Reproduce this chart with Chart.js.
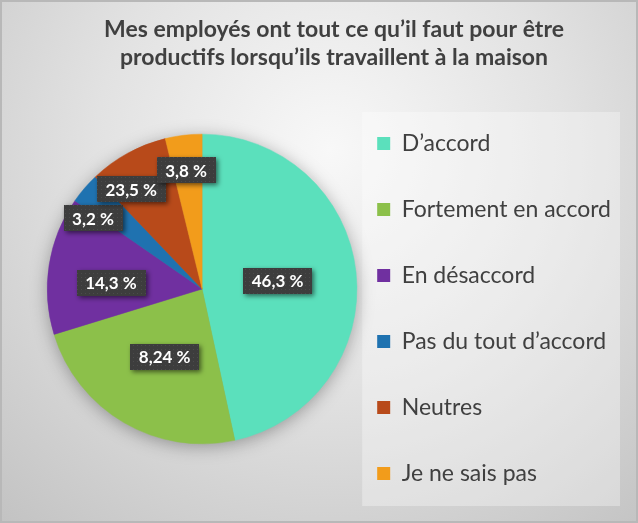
<!DOCTYPE html>
<html><head><meta charset="utf-8">
<script src="https://cdn.jsdelivr.net/npm/chart.js@4.4.1/dist/chart.umd.min.js"></script>
<style>html,body{margin:0;padding:0;background:#d8d8d8}#wrap{width:638px;height:523px;position:relative}</style>
</head><body><div id="wrap"><canvas id="c"></canvas></div>
<script>
const titleLines = ['Mes employés ont tout ce qu’il faut pour être', 'productifs lorsqu’ils travaillent à la maison'];
const categories = ['D’accord', 'Fortement en accord', 'En désaccord', 'Pas du tout d’accord', 'Neutres', 'Je ne sais pas'];
const values = [46.3, 23.5, 14.3, 3.2, 8.24, 3.8];
const valueLabels = ['46,3 %', '8,24 %', '14,3 %', '3,2 %', '23,5 %', '3,8 %'];
const colors = ['#5be0bc', '#8cc04a', '#7030a0', '#1f72b0', '#b84a1a', '#f29c1b'];

const FONT = 'Lato';
Chart.defaults.font.family = FONT;

const bgPlugin = {
  id: 'bg',
  beforeDraw(chart) {
    const {ctx, width, height} = chart;
    ctx.save();
    const g = ctx.createRadialGradient(330, 150, 0, 330, 150, 520);
    g.addColorStop(0, '#f8f8f8');
    g.addColorStop(0.45, '#e2e2e2');
    g.addColorStop(1, '#c0c0c0');
    ctx.fillStyle = g;
    ctx.fillRect(0, 0, width, height);
    ctx.strokeStyle = '#b8b8b8';
    ctx.lineWidth = 2;
    ctx.strokeRect(1, 1, width - 2, height - 2);
    const lg = chart.legend;
    if (lg) {
      const top = lg.top + lg._computeTitleHeight();
      ctx.fillStyle = 'rgba(255,255,255,0.32)';
      ctx.fillRect(lg.left + 5, top, lg.right - 1 - (lg.left + 5), lg.bottom - top);
    }
    ctx.restore();
  }
};

const shadowPlugin = {
  id: 'pieShadow',
  beforeDatasetsDraw(chart) {
    const arc = chart.getDatasetMeta(0).data[0];
    if (!arc) return;
    const {ctx} = chart;
    ctx.save();
    ctx.shadowColor = 'rgba(0,0,0,0.35)';
    ctx.shadowBlur = 18;
    ctx.shadowOffsetY = 3;
    ctx.beginPath();
    ctx.arc(arc.x, arc.y, arc.outerRadius - 1, 0, Math.PI * 2);
    ctx.fillStyle = '#888';
    ctx.fill();
    ctx.restore();
  }
};

const labelPlugin = {
  id: 'sliceLabels',
  afterDatasetsDraw(chart, args, opts) {
    const {ctx} = chart;
    const meta = chart.getDatasetMeta(0);
    const off = document.createElement('canvas');
    off.width = 4; off.height = 4;
    const octx = off.getContext('2d');
    octx.fillStyle = '#3d3d3d'; octx.fillRect(0, 0, 4, 4);
    octx.fillStyle = '#4b4b4b'; octx.fillRect(1, 1, 1, 1);
    const pattern = ctx.createPattern(off, 'repeat');
    meta.data.forEach((arc, i) => {
      const p = arc.getProps(['x', 'y', 'startAngle', 'endAngle', 'outerRadius'], true);
      const pl = opts.placement[i];
      const mid = (p.startAngle + p.endAngle) / 2 + pl.da * Math.PI / 180;
      const cx = p.x + Math.cos(mid) * p.outerRadius * pl.r;
      const cy = p.y + Math.sin(mid) * p.outerRadius * pl.r;
      const text = opts.texts[i];
      ctx.save();
      ctx.font = 'bold 17px ' + FONT;
      const w = ctx.measureText(text).width + 17;
      const h = 26;
      ctx.shadowColor = 'rgba(0,0,0,0.55)';
      ctx.shadowBlur = 5;
      ctx.shadowOffsetX = 2;
      ctx.shadowOffsetY = 2;
      ctx.fillStyle = pattern;
      ctx.fillRect(Math.round(cx - w / 2), Math.round(cy - h / 2), Math.round(w), h);
      ctx.shadowColor = 'transparent';
      ctx.fillStyle = '#ffffff';
      ctx.textAlign = 'center';
      ctx.textBaseline = 'middle';
      ctx.fillText(text, cx, cy + 1);
      ctx.restore();
    });
  }
};

new Chart(document.getElementById('c'), {
  type: 'pie',
  data: {
    labels: categories,
    datasets: [{
      data: values,
      backgroundColor: colors,
      borderColor: colors,
      borderWidth: 0.5
    }]
  },
  options: {
    responsive: true,
    maintainAspectRatio: false,
    animation: false,
    layout: {padding: {left: 47, right: 17, top: 0, bottom: 17}},
    plugins: {
      title: {
        display: true,
        text: titleLines,
        color: '#404040',
        font: {family: FONT, size: 23, weight: 'bold', lineHeight: '28px'},
        padding: {top: 16, bottom: 0}
      },
      legend: {
        position: 'right',
        align: 'start',
        fullSize: false,
        maxWidth: 264,
        title: {display: true, text: ' ', padding: 0, font: {size: 10, lineHeight: '40px'}},
        labels: {
          boxWidth: 13,
          boxHeight: 13,
          padding: 20,
          color: '#404040',
          font: {family: FONT, size: 23, lineHeight: '23px'},
          generateLabels(chart) {
            const ds = chart.data.datasets[0];
            const n = chart.data.labels.length;
            return chart.data.labels.map((l, i) => ({
              text: i < n - 1 ? [l, ''] : l,
              fillStyle: ds.backgroundColor[i],
              strokeStyle: ds.backgroundColor[i],
              lineWidth: 0,
              fontColor: '#404040',
              hidden: false,
              index: i
            }));
          }
        }
      },
      tooltip: {enabled: false},
      sliceLabels: {
        texts: valueLabels,
        placement: [
          {r: 0.49, da: 0}, {r: 0.50, da: -1.4}, {r: 0.59, da: -5},
          {r: 0.84, da: -7.6}, {r: 0.79, da: -6.7}, {r: 0.775, da: -0.8}
        ]
      }
    }
  },
  plugins: [bgPlugin, shadowPlugin, labelPlugin]
});
</script>
</body></html>
